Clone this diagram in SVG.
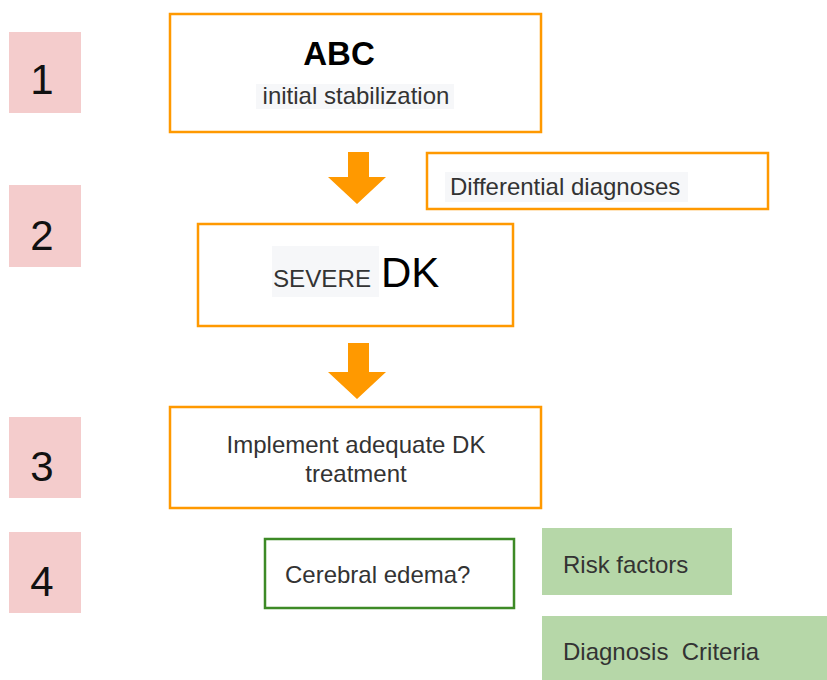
<svg xmlns="http://www.w3.org/2000/svg" width="827" height="680" viewBox="0 0 827 680">
<style>
.step{fill:#f4cccc}
.num{font-family:"Liberation Sans",Arial,sans-serif;font-size:42px;fill:#111;text-anchor:middle}
.obox{fill:#fff;stroke:#ff9900;stroke-width:2.5}
.gbox{fill:#fff;stroke:#3d8a26;stroke-width:2.5}
.green{fill:#b6d7a8}
.t{font-family:"Liberation Sans",Arial,sans-serif;font-size:24px;fill:#333}
.hl{fill:#f6f7f9}
.arrow{fill:#ff9900}
</style>
<g id="step1"><rect class="step" x="9" y="32" width="72" height="81"/><text class="num" x="42" y="94">1</text></g>
<g id="step2"><rect class="step" x="9" y="185" width="72" height="82"/><text class="num" x="42" y="250">2</text></g>
<g id="step3"><rect class="step" x="9" y="417" width="72" height="81"/><text class="num" x="42" y="481">3</text></g>
<g id="step4"><rect class="step" x="9" y="532" width="72" height="81"/><text class="num" x="42" y="596">4</text></g>

<g id="abc">
<rect class="obox" x="170" y="14" width="371" height="118"/>
<text x="339" y="65" font-family="Liberation Sans, Arial, sans-serif" font-size="33" font-weight="bold" fill="#000" text-anchor="middle">ABC</text>
<rect class="hl" x="256" y="84" width="198" height="25"/>
<text class="t" x="356" y="104" text-anchor="middle">initial stabilization</text>
</g>

<g id="differential">
<rect class="obox" x="427" y="153" width="341" height="56"/>
<rect class="hl" x="445" y="172" width="243" height="30"/>
<text class="t" x="450" y="195">Differential diagnoses</text>
</g>

<g id="severe">
<rect class="obox" x="198" y="224" width="315" height="102"/>
<rect class="hl" x="272" y="246" width="107" height="51"/>
<text class="t" x="273" y="287" textLength="98" lengthAdjust="spacingAndGlyphs">SEVERE</text>
<text x="381" y="287" font-family="Liberation Sans, Arial, sans-serif" font-size="42" fill="#000">DK</text>
</g>

<g id="treatment">
<rect class="obox" x="170" y="407" width="371" height="101"/>
<text class="t" x="356" y="453" text-anchor="middle">Implement adequate DK</text>
<text class="t" x="356" y="482" text-anchor="middle">treatment</text>
</g>

<g id="edema">
<rect class="gbox" x="265" y="539" width="249" height="69"/>
<text class="t" x="285" y="583">Cerebral edema?</text>
</g>

<g id="risk">
<rect class="green" x="542" y="528" width="190" height="67"/>
<text class="t" x="563" y="573">Risk factors</text>
</g>

<g id="criteria">
<rect class="green" x="542" y="616" width="285" height="64"/>
<text class="t" x="563" y="660" xml:space="preserve">Diagnosis  Criteria</text>
</g>

<g id="connectors">
<polygon class="arrow" points="348,152 369,152 369,177 386,177 357,204 328,177 348,177"/>
<polygon class="arrow" points="348,343 369,343 369,372 386,372 357,399 328,372 348,372"/>
</g>
</svg>
